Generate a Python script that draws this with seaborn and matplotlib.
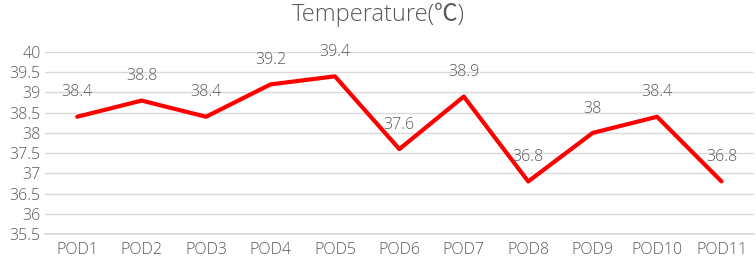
import matplotlib

matplotlib.use("Agg")

import matplotlib.pyplot as plt
import pandas as pd
import seaborn as sns

pods = ["POD1", "POD2", "POD3", "POD4", "POD5", "POD6",
        "POD7", "POD8", "POD9", "POD10", "POD11"]
temperature = [38.4, 38.8, 38.4, 39.2, 39.4, 37.6, 38.9, 36.8, 38.0, 38.4, 36.8]
value_labels = ["38.4", "38.8", "38.4", "39.2", "39.4", "37.6",
                "38.9", "36.8", "38", "38.4", "36.8"]
y_ticks = [35.5, 36, 36.5, 37, 37.5, 38, 38.5, 39, 39.5, 40]

sns.set_theme(style="white")
plt.rcParams["font.family"] = ["Open Sans", "Noto Sans CJK SC", "DejaVu Sans"]

text_color = "#595959"
grid_color = "#d9d9d9"

frame = pd.DataFrame({"pod": pods, "temperature": temperature, "pos": range(len(pods))})

figure = plt.figure(figsize=(7.56, 2.59), dpi=100)
axis = figure.add_axes([0.0595, 0.0965, 0.9375, 0.7025])

sns.lineplot(data=frame, x="pos", y="temperature", color="#ff0000",
             linewidth=3, ax=axis, zorder=3)

for pos, value, label in zip(frame["pos"], temperature, value_labels):
    axis.annotate(label, (pos, value), xytext=(0, 17.5), textcoords="offset points",
                  ha="center", va="center", fontsize=11.5, color=text_color,
                  fontweight="light")

axis.set_xlim(-0.5, len(pods) - 0.5)
axis.set_ylim(35.5, 40)
axis.set_xticks(range(len(pods)))
axis.set_xticklabels(pods, fontweight="light")
axis.set_yticks(y_ticks)
axis.set_yticklabels([f"{t:g}" for t in y_ticks], fontweight="light")
axis.tick_params(axis="both", length=0, labelsize=11.5, labelcolor=text_color)
axis.tick_params(axis="x", pad=6)
axis.tick_params(axis="y", pad=3)
axis.grid(axis="y", color=grid_color, linewidth=1)
axis.set_xlabel("")
axis.set_ylabel("")
for side in ["top", "right", "left"]:
    axis.spines[side].set_visible(False)
axis.spines["bottom"].set_color(grid_color)

figure.suptitle("Temperature(℃)", y=0.99, va="top", fontsize=17, color=text_color,
                fontweight="light")
figure.savefig("out.png", dpi=100)
plt.close(figure)
